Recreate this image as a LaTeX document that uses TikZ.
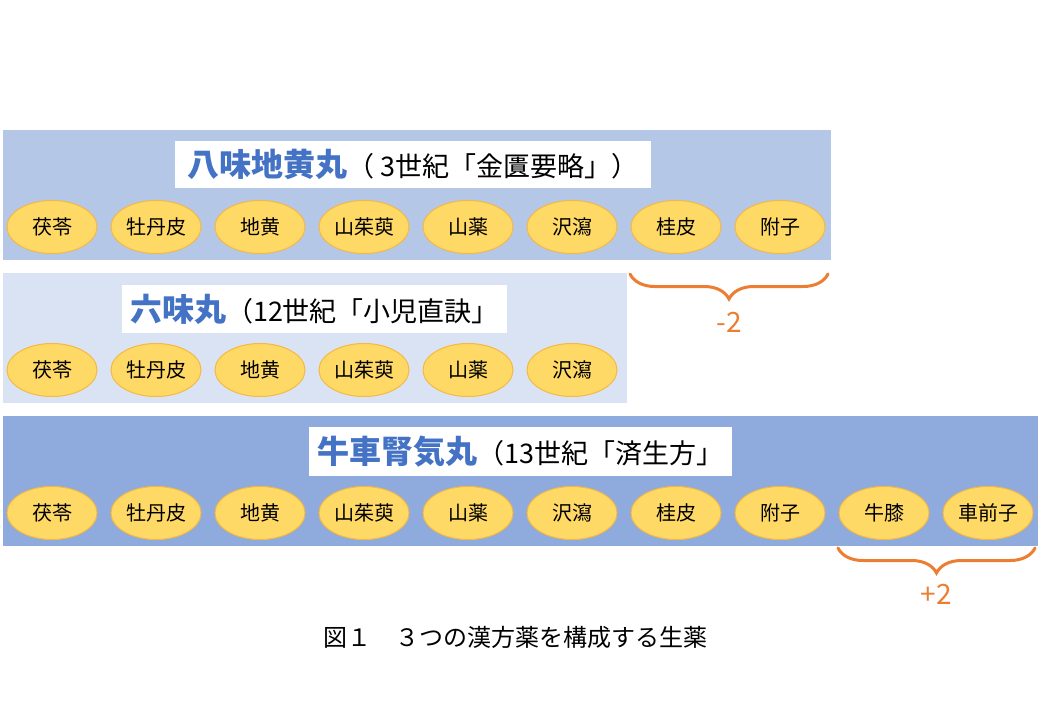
\documentclass[tikz,border=0pt]{standalone}
\usepackage{fontspec}
\setmainfont{Noto Sans CJK JP}
\usepackage{tikz}
\usetikzlibrary{positioning, shapes, decorations.pathreplacing}

\definecolor{hachimibg}{HTML}{B4C7E7}
\definecolor{rokumibg}{HTML}{DAE3F3}
\definecolor{goshabg}{HTML}{8FAADC}
\definecolor{titleblue}{HTML}{4472C4}
\definecolor{herbfill}{HTML}{FFD966}
\definecolor{herbline}{HTML}{F4B940}
\definecolor{braceorange}{HTML}{ED7D31}

\newcommand{\kanpo}[1]{{\fontsize{32}{36}\selectfont\bfseries\color{titleblue}#1}}
\newcommand{\origin}[1]{{\fontsize{27}{32}\selectfont #1}}

\begin{document}
\begin{tikzpicture}[x=1pt, y=-1pt, every node/.style={inner sep=0pt, outer sep=0pt},
  panel/.style={rectangle, anchor=north west},
  titlebox/.style={rectangle, fill=white},
  herb/.style={ellipse, draw=herbline, fill=herbfill, line width=1pt, minimum width=90pt, minimum height=53pt, font=\fontsize{20}{24}\selectfont},
  bracket/.style={draw=braceorange, line width=3pt, line cap=round, decorate, decoration={brace, mirror, amplitude=25pt}},
  delta/.style={text=braceorange, font=\fontsize{28}{32}\selectfont}]
                \useasboundingbox (0,0) rectangle (1040,720);

                % three panels
                \node[panel, fill=hachimibg, minimum width=828pt, minimum height=130pt] (p1) at (3,130) {};
                \node[panel, fill=rokumibg, minimum width=624pt, minimum height=130pt] (p2) at (3,273) {};
                \node[panel, fill=goshabg, minimum width=1035pt, minimum height=130pt] (p3) at (3,416) {};

                \node[titlebox, minimum width=476pt, minimum height=47pt] (t1) at (413,164.5) {\kanpo{八味地黄丸}\origin{（ 3世紀「金匱要略」）}};
                \node[titlebox, minimum width=385pt, minimum height=48pt] (t2) at (314.5,309) {\kanpo{六味丸}\origin{（12世紀「小児直訣」}};
                \node[titlebox, minimum width=423pt, minimum height=49pt] (t3) at (520.5,451.5) {\kanpo{牛車腎気丸}\origin{（13世紀「済生方」}};

                % herbs
                \foreach \herbname [count=\i] in {茯苓, 牡丹皮, 地黄, 山茱萸, 山薬, 沢瀉, 桂皮, 附子}
                    \node[herb] (a\i) at ({52+104*(\i-1)}, 227) {\herbname};
                \foreach \herbname [count=\i] in {茯苓, 牡丹皮, 地黄, 山茱萸, 山薬, 沢瀉}
                    \node[herb] (b\i) at ({52+104*(\i-1)}, 370) {\herbname};
                \foreach \herbname [count=\i] in {茯苓, 牡丹皮, 地黄, 山茱萸, 山薬, 沢瀉, 桂皮, 附子, 牛膝, 車前子}
                    \node[herb] (c\i) at ({52+104*(\i-1)}, 513) {\herbname};

                % differences
                \coordinate (m1) at (630,274);
                \coordinate (m2) at (828,274);
                \draw[bracket] (m1) -- (m2);
                \node[delta] (minus) at (729,322) {-2};
                \coordinate (q1) at (838,548);
                \coordinate (q2) at (1035,548);
                \draw[bracket] (q1) -- (q2);
                \node[delta] (plus) at (936,594) {+2};

                \node[font=\fontsize{24}{28}\selectfont] (caption) at (515,637) {図１　３つの漢方薬を構成する生薬};
            \end{tikzpicture}
\end{document}
